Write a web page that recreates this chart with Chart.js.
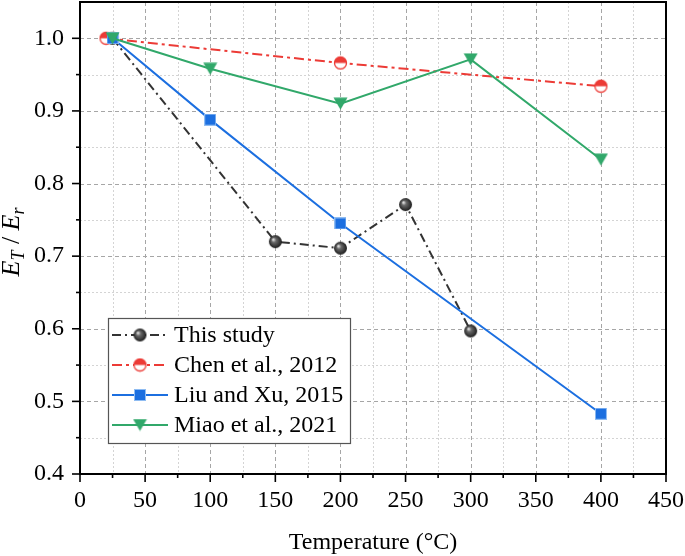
<!DOCTYPE html>
<html><head><meta charset="utf-8">
<script src="https://cdn.jsdelivr.net/npm/chart.js@4"></script>
<style>html,body{margin:0;padding:0;background:#fff}#wrap{width:685px;height:556px;position:relative}</style>
</head><body><div id="wrap"><canvas id="c" width="685" height="556"></canvas></div>
<script>
// ---- data ----
const seriesNames = ['This study', 'Chen et al., 2012', 'Liu and Xu, 2015', 'Miao et al., 2021'];
const thisStudyTemp = [25, 150, 200, 250, 300];
const thisStudyRatio = [1.0, 0.72, 0.711, 0.771, 0.597];
const chenTemp = [20, 200, 400];
const chenRatio = [1.0, 0.966, 0.934];
const liuTemp = [25, 100, 200, 400];
const liuRatio = [1.0, 0.888, 0.745, 0.483];
const miaoTemp = [25, 100, 200, 300, 400];
const miaoRatio = [1.0, 0.958, 0.91, 0.971, 0.833];
const xMajorTicks = [0, 50, 100, 150, 200, 250, 300, 350, 400, 450];
const xMinorTicks = [25, 75, 125, 175, 225, 275, 325, 375, 425];
const yMajorTicks = [0.4, 0.5, 0.6, 0.7, 0.8, 0.9, 1.0];
const yMinorTicks = [0.45, 0.55, 0.65, 0.75, 0.85, 0.95];
const xTitle = 'Temperature (°C)';

const FONT = "'Liberation Serif', 'Times New Roman', serif";
const toXY = (xs, ys) => xs.map((x, i) => ({x: x, y: ys[i]}));

// ---- marker images ----
function mk(w, h, fn) { const c = document.createElement('canvas'); c.width = w; c.height = h; fn(c.getContext('2d'), w, h); return c; }
const sphereImg = mk(15, 15, (g, w) => {
  const cx = w / 2, r = 6.5;
  const gr = g.createRadialGradient(cx - 2.2, cx - 2.2, 0.5, cx, cx, r);
  gr.addColorStop(0, '#e0e0e0'); gr.addColorStop(0.3, '#6a6a6a'); gr.addColorStop(1, '#1c1c1c');
  g.fillStyle = gr; g.beginPath(); g.arc(cx, cx, r, 0, Math.PI * 2); g.fill();
});
const halfImg = mk(15, 15, (g, w) => {
  const cx = w / 2, r = 6;
  g.fillStyle = '#fff'; g.beginPath(); g.arc(cx, cx, r, 0, Math.PI * 2); g.fill();
  g.fillStyle = '#ec3b36'; g.beginPath(); g.arc(cx, cx, r, Math.PI, Math.PI * 2); g.closePath(); g.fill();
  g.strokeStyle = '#ec3b36'; g.lineWidth = 1.3; g.beginPath(); g.arc(cx, cx, r, 0, Math.PI * 2); g.stroke();
});
const squareImg = mk(12, 12, (g) => {
  g.fillStyle = '#1c6fe0'; g.fillRect(0.5, 0.5, 11, 11);
  g.strokeStyle = '#8fbcf2'; g.lineWidth = 1; g.strokeRect(0.5, 0.5, 11, 11);
});
const triImg = mk(15, 13, (g, w, h) => {
  g.fillStyle = '#31a86a'; g.beginPath(); g.moveTo(0.5, 0.5); g.lineTo(w - 0.5, 0.5); g.lineTo(w / 2, h - 0.5); g.closePath(); g.fill();
});

const colors = ['#333333', '#ec3b36', '#1c6fe0', '#31a86a'];
const dashes = [[9, 4, 2, 4], [10, 4, 3, 4], [], []];
const images = [sphereImg, halfImg, squareImg, triImg];

// ---- plugins ----
const gridPlugin = {
  id: 'gridPlugin',
  beforeDatasetsDraw(chart) {
    const {ctx, chartArea: a, scales: {x, y}} = chart;
    ctx.save();
    ctx.lineWidth = 1;
    const vline = (v, col, d) => { const px = Math.round(x.getPixelForValue(v)) + 0.5; ctx.strokeStyle = col; ctx.setLineDash(d); ctx.beginPath(); ctx.moveTo(px, a.top); ctx.lineTo(px, a.bottom); ctx.stroke(); };
    const hline = (v, col, d) => { const py = Math.round(y.getPixelForValue(v)) + 0.5; ctx.strokeStyle = col; ctx.setLineDash(d); ctx.beginPath(); ctx.moveTo(a.left, py); ctx.lineTo(a.right, py); ctx.stroke(); };
    xMinorTicks.forEach(v => vline(v, '#d4d4d4', [2, 2]));
    yMinorTicks.forEach(v => hline(v, '#d4d4d4', [2, 2]));
    xMajorTicks.forEach(v => vline(v, '#a6a6a6', [4, 3]));
    yMajorTicks.forEach(v => hline(v, '#a6a6a6', [4, 3]));
    ctx.restore();
  },
  afterDraw(chart) {
    const {ctx, chartArea: a, scales: {x, y}} = chart;
    ctx.save();
    ctx.setLineDash([]);
    // ticks
    ctx.strokeStyle = '#000'; ctx.lineWidth = 1.6;
    const xt = (v, len) => { const px = x.getPixelForValue(v); ctx.beginPath(); ctx.moveTo(px, a.bottom); ctx.lineTo(px, a.bottom + len); ctx.stroke(); };
    const yt = (v, len) => { const py = y.getPixelForValue(v); ctx.beginPath(); ctx.moveTo(a.left, py); ctx.lineTo(a.left - len, py); ctx.stroke(); };
    xMajorTicks.forEach(v => xt(v, 8)); xMinorTicks.forEach(v => xt(v, 4));
    yMajorTicks.forEach(v => yt(v, 8)); yMinorTicks.forEach(v => yt(v, 4));
    // frame
    ctx.lineWidth = 2; ctx.strokeStyle = '#000';
    ctx.strokeRect(a.left, a.top, a.right - a.left, a.bottom - a.top);
    // y title with subscripts
    ctx.translate(12, (a.top + a.bottom) / 2 + 4);
    ctx.rotate(-Math.PI / 2);
    const parts = [
      {t: 'E', f: 'italic 26px ' + FONT, dy: 0},
      {t: 'T', f: 'italic 18px ' + FONT, dy: 5},
      {t: ' / ', f: '26px ' + FONT, dy: 0},
      {t: 'E', f: 'italic 26px ' + FONT, dy: 0},
      {t: 'r', f: 'italic 18px ' + FONT, dy: 5}
    ];
    let total = 0;
    parts.forEach(p => { ctx.font = p.f; p.w = ctx.measureText(p.t).width; total += p.w; });
    let cx = -total / 2;
    ctx.fillStyle = '#000'; ctx.textBaseline = 'alphabetic'; ctx.textAlign = 'left';
    parts.forEach(p => { ctx.font = p.f; ctx.fillText(p.t, cx, 7 + p.dy); cx += p.w; });
    ctx.restore();

    // legend
    ctx.save();
    const lx = a.left + 28, ly = a.top + 316, lw = 242, lh = 125;
    ctx.fillStyle = '#fff'; ctx.fillRect(lx, ly, lw, lh);
    ctx.strokeStyle = '#555'; ctx.lineWidth = 1.2; ctx.strokeRect(lx + 0.5, ly + 0.5, lw, lh);
    ctx.font = '24px ' + FONT; ctx.textBaseline = 'middle'; ctx.textAlign = 'left';
    seriesNames.forEach((name, i) => {
      const cy = ly + 17 + i * 30;
      ctx.strokeStyle = colors[i]; ctx.lineWidth = 2; ctx.setLineDash(dashes[i]);
      ctx.beginPath(); ctx.moveTo(lx + 4, cy); ctx.lineTo(lx + 60, cy); ctx.stroke();
      ctx.setLineDash([]);
      const im = images[i];
      ctx.drawImage(im, lx + 32 - im.width / 2, cy - im.height / 2);
      ctx.fillStyle = '#000';
      ctx.fillText(name, lx + 66, cy + 1);
    });
    ctx.restore();
  }
};

const mkDs = (i, xs, ys, order) => ({
  label: seriesNames[i],
  data: toXY(xs, ys),
  borderColor: colors[i],
  backgroundColor: colors[i],
  borderWidth: 2,
  borderDash: dashes[i],
  pointStyle: images[i],
  pointRadius: 6,
  pointHoverRadius: 6,
  tension: 0,
  order: order,
  clip: false
});

const zeroPad = s => { s.paddingTop = 0; s.paddingBottom = 0; s.paddingLeft = 0; s.paddingRight = 0; };

new Chart(document.getElementById('c'), {
  type: 'line',
  data: {
    datasets: [
      mkDs(0, thisStudyTemp, thisStudyRatio, 3),
      mkDs(1, chenTemp, chenRatio, 2),
      mkDs(2, liuTemp, liuRatio, 1),
      mkDs(3, miaoTemp, miaoRatio, 0)
    ]
  },
  options: {
    responsive: false,
    animation: false,
    events: [],
    layout: {autoPadding: false, padding: {top: 2, right: 19, left: 0, bottom: 0}},
    plugins: {legend: {display: false}, tooltip: {enabled: false}, title: {display: false}},
    scales: {
      x: {
        type: 'linear', min: 0, max: 450,
        afterFit: s => { s.height = 82; zeroPad(s); },
        afterBuildTicks: s => { s.ticks = xMajorTicks.map(v => ({value: v})); },
        grid: {display: false, drawTicks: false},
        border: {display: false},
        ticks: {padding: 12, color: '#000', font: {family: FONT, size: 24}, maxRotation: 0, autoSkip: false, callback: v => String(v)},
        title: {display: true, text: xTitle, color: '#000', font: {family: FONT, size: 24, lineHeight: 1.0}, padding: {top: 0, bottom: 1}}
      },
      y: {
        type: 'linear', min: 0.4, max: 1.05,
        afterFit: s => { s.width = 80; zeroPad(s); },
        afterBuildTicks: s => { s.ticks = yMajorTicks.map(v => ({value: v})); },
        grid: {display: false, drawTicks: false},
        border: {display: false},
        ticks: {padding: 16, color: '#000', font: {family: FONT, size: 24}, autoSkip: false, callback: v => v.toFixed(1)}
      }
    }
  },
  plugins: [gridPlugin]
});
</script>
</body></html>
